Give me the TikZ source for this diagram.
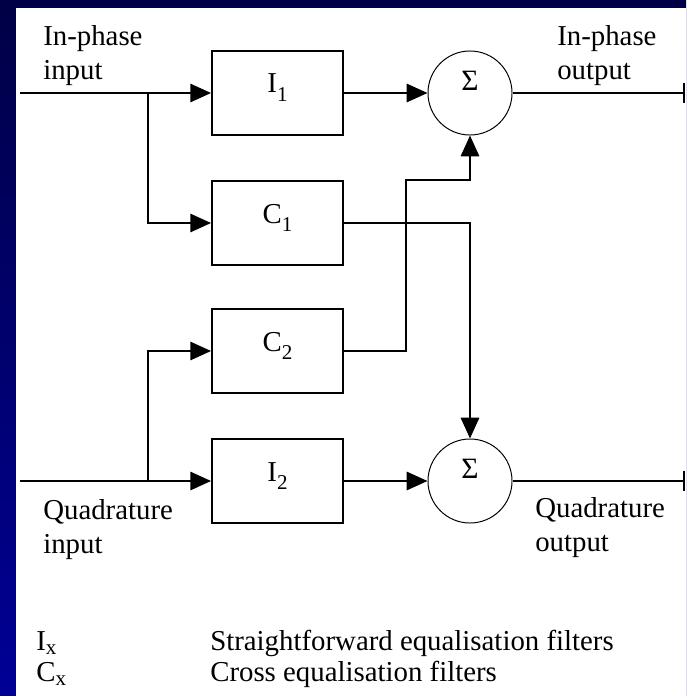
\documentclass[tikz,border=0pt]{standalone}
\usepackage{fontspec}
\setmainfont{Liberation Serif}
\usetikzlibrary{arrows.meta,positioning}
\definecolor{navytop}{RGB}{0,0,70}
\definecolor{navybot}{RGB}{0,0,150}
\newcommand\lowsub[2][-0.3em]{\raisebox{#1}{\fontsize{15}{15}\selectfont #2}}
\tikzset{
  >={Triangle[length=5.2mm,width=4.6mm]},
  filt/.style={draw,line width=1.3pt,minimum width=3.275cm,minimum height=2.1cm,
    inner sep=0pt,text height=15pt,text depth=15pt,font=\fontsize{20.5}{24}\selectfont},
  summer/.style={circle,draw,line width=0.7pt,minimum size=2.1cm,inner sep=0pt,
    text height=15pt,text depth=18pt,font=\fontsize{21}{24}\selectfont},
  sig/.style={->,line width=1.3pt},
  sigout/.style={-{Bar[width=5mm]},line width=1.3pt},
  tag/.style={font=\fontsize{20.5}{24.5}\selectfont,align=left,inner sep=0pt,anchor=north west},
}
\begin{document}
\begin{tikzpicture}[x=0.025cm,y=-0.025cm]
  \useasboundingbox (0,0) rectangle (686,696);
  % frame
  \shade[top color=navytop,bottom color=navybot] (0,0) rectangle (686,696);
  \fill[white] (16,8) rectangle (686,696);
  % filters and adders
  \foreach \nm/\txt/\y in {I1/{I\lowsub{1}}/93, C1/{C\lowsub{1}}/223,
                           C2/{C\lowsub{2}}/351, I2/{I\lowsub{2}}/481}
    \node[filt] (\nm) at (277.5,\y) {\txt};
  \node[summer] (S1) at (470,93) {Σ};
  \node[summer] (S2) at (470,481) {Σ};
  % ends, branch points
  \coordinate (inI) at (20,93);
  \coordinate (brI) at (148,93);
  \coordinate (outI) at (685,93);
  \coordinate (inQ) at (20,481);
  \coordinate (brQ) at (148,481);
  \coordinate (outQ) at (685,481);
  \coordinate (knee) at (406,180);
  % wires
  \draw[sig] (inI) -- (I1);
  \draw[sig] (brI) |- (C1);
  \draw[sig] (I1) -- (S1);
  \draw[sigout] (S1) -- (outI);
  \draw[sig] (inQ) -- (I2);
  \draw[sig] (brQ) |- (C2);
  \draw[sig] (I2) -- (S2);
  \draw[sigout] (S2) -- (outQ);
  \draw[sig] (C2) -| (knee) -| (S1);
  \draw[sig] (C1) -| (S2);
  % labels
  \node[tag] (lblIin) at (43,25) {In-phase\\input};
  \node[tag] (lblIout) at (557,25) {In-phase\\output};
  \node[tag] (lblQin) at (43,499) {Quadrature\\input};
  \node[tag] (lblQout) at (535,497) {Quadrature\\output};
  % key
  \node[tag,anchor=base west] (keyI) at (36,650) {I\lowsub[-0.15em]{x}};
  \node[tag,anchor=base west] (keyC) at (36,681) {C\lowsub[-0.15em]{x}};
  \node[tag,anchor=base west] (txtI) at (210,650) {Straightforward equalisation filters};
  \node[tag,anchor=base west] (txtC) at (210,681) {Cross equalisation filters};
\end{tikzpicture}
\end{document}
